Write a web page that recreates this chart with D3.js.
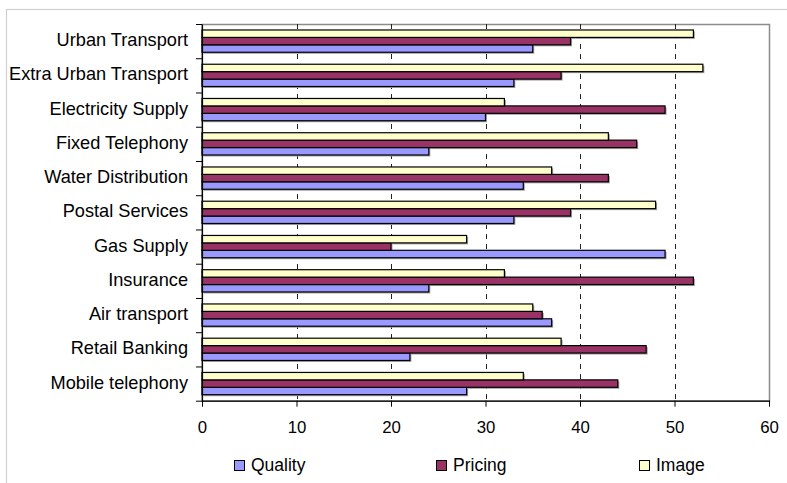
<!DOCTYPE html>
<html>
<head>
<meta charset="utf-8">
<script src="https://cdn.jsdelivr.net/npm/d3@7"></script>
<style>
  html, body { margin: 0; padding: 0; background: #fff; }
  svg { display: block; font-family: "Liberation Sans", Arial, sans-serif; }
</style>
</head>
<body>
<svg id="chart" width="787" height="483"></svg>
<script>
const categories = ["Urban Transport", "Extra Urban Transport", "Electricity Supply", "Fixed Telephony",
  "Water Distribution", "Postal Services", "Gas Supply", "Insurance", "Air transport",
  "Retail Banking", "Mobile telephony"];
const quality = [35, 33, 30, 24, 34, 33, 49, 24, 37, 22, 28];
const pricing = [39, 38, 49, 46, 43, 39, 20, 52, 36, 47, 44];
const image   = [52, 53, 32, 43, 37, 48, 28, 32, 35, 38, 34];
const seriesNames = ["Quality", "Pricing", "Image"];
const xTicks = [0, 10, 20, 30, 40, 50, 60];

(function () {
const colors = { Quality: "#9999FF", Pricing: "#993366", Image: "#FFFFCC" };
const seriesData = { Quality: quality, Pricing: pricing, Image: image };

const svg = d3.select("#chart");
const pLeft = 202, pRight = 769, pTop = 24, pBottom = 400.7;

// outer chart border
svg.append("rect").attr("x", 6.5).attr("y", 9.5).attr("width", 820).attr("height", 520)
  .attr("fill", "none").attr("stroke", "#d0d0d0").attr("stroke-width", 1.2);

const x = d3.scaleLinear().domain([0, 60]).range([pLeft, pRight]);
const y = d3.scaleBand().domain(categories).range([pTop, pBottom]).paddingInner(0.35).paddingOuter(0.175);
const yb = d3.scaleBand().domain(["Image", "Pricing", "Quality"]).range([0, y.bandwidth()]);

// plot area border
svg.append("rect").attr("x", pLeft).attr("y", pTop + 0.5).attr("width", pRight - pLeft + 0.5).attr("height", pBottom - pTop)
  .attr("fill", "none").attr("stroke", "#8c8c8c").attr("stroke-width", 1.5);

// gridlines
svg.append("g").selectAll("line").data(xTicks.filter(d => d > 0 && d < 60)).join("line")
  .attr("x1", d => Math.round(x(d)) + 0.5).attr("x2", d => Math.round(x(d)) + 0.5)
  .attr("y1", pTop).attr("y2", pBottom)
  .attr("stroke", "#222").attr("stroke-width", 1).attr("stroke-dasharray", "5,5");

// bars
const rows = [];
categories.forEach((c, i) => {
  seriesNames.forEach(s => rows.push({ cat: c, series: s, value: seriesData[s][i] }));
});
const gBars = svg.append("g");
gBars.selectAll("rect.shadow").data(rows).join("rect").attr("class", "shadow")
  .attr("x", x(0) + 1.5).attr("y", d => y(d.cat) + yb(d.series) + 1.5)
  .attr("width", d => x(d.value) - x(0)).attr("height", yb.bandwidth())
  .attr("fill", "#a0a0a0");
gBars.selectAll("rect.bar").data(rows).join("rect").attr("class", "bar")
  .attr("x", x(0)).attr("y", d => y(d.cat) + yb(d.series))
  .attr("width", d => x(d.value) - x(0)).attr("height", yb.bandwidth())
  .attr("fill", d => colors[d.series]).attr("stroke", "#000").attr("stroke-width", 1.2);

// x axis
const xAxis = svg.append("g").attr("transform", `translate(0,${pBottom})`)
  .call(d3.axisBottom(x).tickValues(xTicks).tickSize(6).tickPadding(14).tickSizeOuter(0));
xAxis.select(".domain").attr("stroke", "#000").attr("stroke-width", 1.2);
xAxis.selectAll(".tick line").attr("stroke", "#000");
xAxis.selectAll("text").attr("font-size", 16.8).attr("fill", "#000")
  .attr("font-family", "'Liberation Sans', Arial, sans-serif");

// y axis boundary ticks
const yb2 = d3.scaleLinear().domain([0, categories.length]).range([pTop, pBottom]);
const yTickAxis = svg.append("g").attr("transform", `translate(${pLeft},0)`)
  .call(d3.axisLeft(yb2).tickValues(d3.range(categories.length + 1)).tickFormat("").tickSize(6).tickSizeOuter(0));
yTickAxis.select(".domain").attr("stroke", "#000").attr("stroke-width", 1.2);
yTickAxis.selectAll(".tick line").attr("stroke", "#000");

// category labels
const yLabels = svg.append("g").attr("transform", `translate(${pLeft},0)`)
  .call(d3.axisLeft(y).tickSize(0).tickPadding(14));
yLabels.select(".domain").remove();
yLabels.selectAll("text").attr("font-size", 18.2).attr("fill", "#000")
  .attr("font-family", "'Liberation Sans', Arial, sans-serif").attr("dy", "0.28em");

// legend
const legendX = [234, 436, 639];
const legend = svg.append("g").selectAll("g").data(seriesNames).join("g")
  .attr("transform", (d, i) => `translate(${legendX[i]},460)`);
legend.append("rect").attr("x", 0.5).attr("y", 0.5).attr("width", 10).attr("height", 10)
  .attr("fill", d => colors[d]).attr("stroke", "#000").attr("stroke-width", 1);
legend.append("text").attr("x", 17).attr("y", 11).attr("font-size", 17.5).attr("fill", "#000")
  .attr("font-family", "'Liberation Sans', Arial, sans-serif")
  .text(d => d);
})();
</script>
</body>
</html>
